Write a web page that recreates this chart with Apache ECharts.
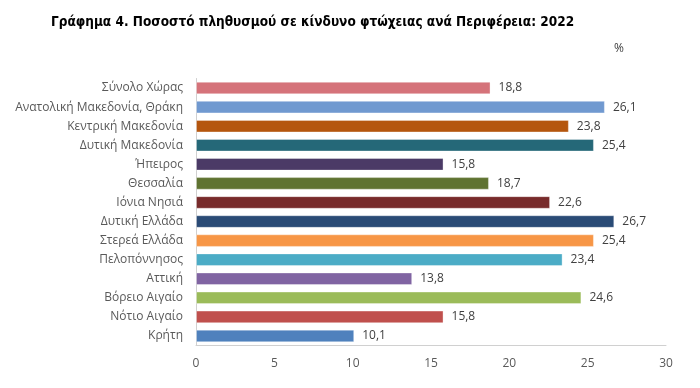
<!DOCTYPE html>
<html><head><meta charset="utf-8">
<script src="https://cdn.jsdelivr.net/npm/echarts@6/dist/echarts.min.js"></script>
<style>html,body{margin:0;padding:0;background:#fff}#c{width:700px;height:388px}</style>
</head><body><div id="c"></div>
<script>
const categories = ["Σύνολο Χώρας","Ανατολική Μακεδονία, Θράκη","Κεντρική Μακεδονία","Δυτική Μακεδονία","Ήπειρος","Θεσσαλία","Ιόνια Νησιά","Δυτική Ελλάδα","Στερεά Ελλάδα","Πελοπόννησος","Αττική","Βόρειο Αιγαίο","Νότιο Αιγαίο","Κρήτη"];
const values = [18.8,26.1,23.8,25.4,15.8,18.7,22.6,26.7,25.4,23.4,13.8,24.6,15.8,10.1];
const barColors = ["#D5737A","#7099D0","#B5560E","#256878","#4B3A66","#5F7331","#782B2B","#2A4B76","#F79646","#4BACC6","#8064A2","#9BBB59","#C0504D","#4F81BD"];
const xTicks = [0,5,10,15,20,25,30];
const titleText = "Γράφημα 4. Ποσοστό πληθυσμού σε κίνδυνο φτώχειας ανά Περιφέρεια: 2022";
const unitText = "%";

const chart = echarts.init(document.getElementById('c'), null, {renderer:'canvas'});
const font = "'Open Sans', 'Noto Sans', sans-serif";
chart.setOption({
  animation:false,
  title:[{text:titleText,left:46,top:10,textStyle:{fontFamily:"'DejaVu Sans Condensed','Roboto',sans-serif",fontWeight:'bold',fontSize:13.5,color:'#000'}},
         {text:unitText,left:609,top:38,textStyle:{fontFamily:font,fontWeight:'normal',fontSize:12,color:'#404040'}}],
  grid:{left:196,top:78.5,width:470,height:267,containLabel:false},
  xAxis:{type:'value',min:0,max:30,interval:5,
    axisLine:{show:true,lineStyle:{color:'#d0d0d0'}},
    axisTick:{show:false},splitLine:{show:false},
    axisLabel:{margin:12,fontFamily:font,fontSize:12,color:'#595959',
      formatter:v=>xTicks.includes(v)?String(v):''}},
  yAxis:{type:'category',data:categories,inverse:true,
    axisLine:{show:true,lineStyle:{color:'#d0d0d0'}},
    axisTick:{show:false},
    axisLabel:{margin:13,fontFamily:font,fontSize:12,color:'#595959'}},
  series:[{type:'bar',barWidth:'66%',
    data:values.map((v,i)=>({value:v,itemStyle:{color:barColors[i],borderColor:'rgba(255,255,255,0.35)',borderWidth:1}})),
    label:{show:true,position:'right',distance:8,fontFamily:font,fontSize:12,color:'#404040',
      formatter:p=>String(p.value).replace('.',',')}}]
});
</script></body></html>
